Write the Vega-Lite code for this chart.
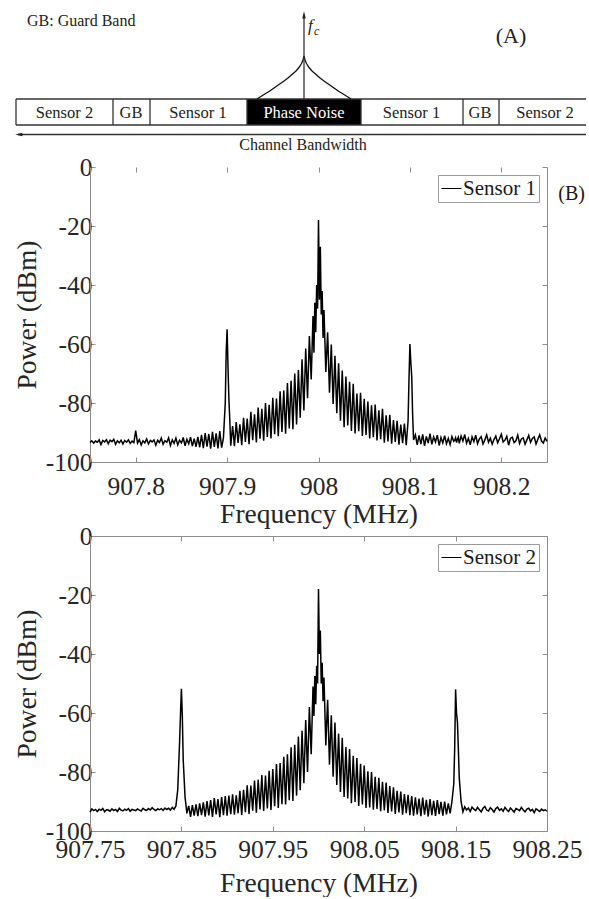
{
  "$schema": "https://vega.github.io/schema/vega-lite/v6.json",
  "padding": {"left": 13, "top": 0, "right": 0, "bottom": 0},
  "bounds": "flush",
  "spacing": 74,
  "resolve": {"scale": {"color": "independent"}},
  "config": {
    "font": "Liberation Serif",
    "view": {"stroke": null},
    "text": {"font": "Liberation Serif"},
    "axis": {
      "grid": false,
      "domainColor": "#8c8c8c",
      "tickColor": "#8c8c8c",
      "labelColor": "#262626",
      "titleColor": "#262626",
      "labelFont": "Liberation Serif",
      "titleFont": "Liberation Serif",
      "labelFontSize": 25.5,
      "titleFontSize": 27.5,
      "titleFontWeight": "normal",
      "labelOverlap": false,
      "labelFlush": false,
      "tickSize": -5,
      "domainWidth": 1,
      "tickWidth": 1
    },
    "legend": {
      "orient": "top-right",
      "offset": 8,
      "strokeColor": "#9a9a9a",
      "fillColor": "#ffffff",
      "padding": 3,
      "symbolType": "stroke",
      "symbolSize": 400,
      "symbolStrokeWidth": 1,
      "labelFont": "Liberation Serif",
      "labelFontSize": 21,
      "labelColor": "#1a1a1a",
      "labelOffset": 1
    }
  },
  "datasets": {
    "spec": [
      {"f":907.750,"a":-93.4,"b":-93.6},{"f":907.752,"a":-92.8,"b":-92.5},{"f":907.754,"a":-93.6,"b":-93.1},{"f":907.756,"a":-92.9,"b":-92.7},
      {"f":907.758,"a":-93.3,"b":-93.4},{"f":907.760,"a":-92.5,"b":-92.6},{"f":907.762,"a":-94.1,"b":-93.0},{"f":907.764,"a":-92.7,"b":-92.4},
      {"f":907.766,"a":-93.2,"b":-93.5},{"f":907.768,"a":-92.4,"b":-92.8},{"f":907.770,"a":-93.8,"b":-92.9},{"f":907.772,"a":-92.6,"b":-93.3},
      {"f":907.774,"a":-93.1,"b":-92.5},{"f":907.776,"a":-92.3,"b":-93.1},{"f":907.778,"a":-94.0,"b":-92.7},{"f":907.780,"a":-92.8,"b":-93.4},
      {"f":907.782,"a":-93.5,"b":-92.3},{"f":907.784,"a":-92.6,"b":-92.9},{"f":907.786,"a":-93.9,"b":-93.2},{"f":907.788,"a":-92.7,"b":-92.6},
      {"f":907.790,"a":-93.3,"b":-93.0},{"f":907.792,"a":-92.5,"b":-92.4},{"f":907.794,"a":-93.7,"b":-93.3},{"f":907.796,"a":-92.9,"b":-92.7},
      {"f":907.798,"a":-93.4,"b":-92.9},{"f":907.800,"a":-89.4,"b":-93.1},{"f":907.802,"a":-93.6,"b":-92.5},{"f":907.804,"a":-92.4,"b":-92.9},
      {"f":907.806,"a":-94.2,"b":-93.2},{"f":907.808,"a":-92.8,"b":-92.3},{"f":907.810,"a":-93.5,"b":-92.8},{"f":907.812,"a":-92.2,"b":-93.0},
      {"f":907.814,"a":-93.9,"b":-92.4},{"f":907.816,"a":-92.7,"b":-92.9},{"f":907.818,"a":-93.2,"b":-92.1},{"f":907.820,"a":-92.5,"b":-92.7},
      {"f":907.822,"a":-94.3,"b":-93.1},{"f":907.824,"a":-92.6,"b":-92.5},{"f":907.826,"a":-93.4,"b":-92.8},{"f":907.828,"a":-91.9,"b":-92.4},
      {"f":907.830,"a":-94.0,"b":-93.0},{"f":907.832,"a":-92.8,"b":-92.2},{"f":907.834,"a":-93.3,"b":-92.7},{"f":907.836,"a":-91.8,"b":-92.3},
      {"f":907.838,"a":-94.4,"b":-92.9},{"f":907.840,"a":-92.5,"b":-92.0},{"f":907.842,"a":-93.7,"b":-92.6},{"f":907.844,"a":-91.9,"b":-91.5},
      {"f":907.846,"a":-94.2,"b":-86.0},{"f":907.848,"a":-92.6,"b":-70.0},{"f":907.849,"a":-93.0,"b":-60.5},{"f":907.850,"a":-93.5,"b":-51.8},
      {"f":907.851,"a":-92.8,"b":-61.0},{"f":907.852,"a":-91.7,"b":-76.0},{"f":907.854,"a":-94.5,"b":-88.5},{"f":907.856,"a":-92.3,"b":-94.0},
      {"f":907.858,"a":-93.8,"b":-91.5},{"f":907.860,"a":-91.6,"b":-95.2},{"f":907.862,"a":-94.6,"b":-91.2},{"f":907.864,"a":-92.1,"b":-94.8},
      {"f":907.866,"a":-94.9,"b":-91.0},{"f":907.868,"a":-91.5,"b":-95.0},{"f":907.870,"a":-95.0,"b":-90.6},{"f":907.872,"a":-90.8,"b":-94.6},
      {"f":907.874,"a":-95.3,"b":-90.3},{"f":907.876,"a":-90.2,"b":-95.1},{"f":907.878,"a":-94.8,"b":-89.9},{"f":907.880,"a":-90.5,"b":-94.7},
      {"f":907.882,"a":-95.5,"b":-89.5},{"f":907.884,"a":-89.8,"b":-95.2},{"f":907.886,"a":-94.9,"b":-88.8},{"f":907.888,"a":-90.3,"b":-94.4},
      {"f":907.890,"a":-95.4,"b":-89.2},{"f":907.892,"a":-89.5,"b":-95.3},{"f":907.894,"a":-95.1,"b":-88.5},{"f":907.896,"a":-91.8,"b":-94.6},
      {"f":907.898,"a":-80.0,"b":-88.2},{"f":907.899,"a":-63.0,"b":-91.5},{"f":907.900,"a":-55.0,"b":-94.8},{"f":907.901,"a":-68.0,"b":-91.0},
      {"f":907.902,"a":-79.0,"b":-88.0},{"f":907.903,"a":-86.0,"b":-91.6},{"f":907.904,"a":-94.5,"b":-94.3},{"f":907.906,"a":-87.8,"b":-87.6},
      {"f":907.908,"a":-94.6,"b":-94.5},{"f":907.910,"a":-86.5,"b":-87.9},{"f":907.912,"a":-93.5,"b":-94.0},{"f":907.914,"a":-87.2,"b":-86.4},
      {"f":907.916,"a":-94.3,"b":-94.6},{"f":907.918,"a":-85.0,"b":-86.0},{"f":907.920,"a":-93.2,"b":-93.6},{"f":907.922,"a":-85.3,"b":-84.5},
      {"f":907.924,"a":-94.0,"b":-94.2},{"f":907.926,"a":-83.0,"b":-84.6},{"f":907.928,"a":-92.6,"b":-93.1},{"f":907.930,"a":-83.8,"b":-82.9},
      {"f":907.932,"a":-93.4,"b":-93.8},{"f":907.934,"a":-81.5,"b":-82.6},{"f":907.936,"a":-92.1,"b":-92.7},{"f":907.938,"a":-82.0,"b":-81.0},
      {"f":907.940,"a":-92.8,"b":-93.2},{"f":907.942,"a":-80.0,"b":-81.2},{"f":907.944,"a":-91.5,"b":-92.4},{"f":907.946,"a":-80.6,"b":-79.6},
      {"f":907.948,"a":-92.0,"b":-92.9},{"f":907.950,"a":-78.2,"b":-79.0},{"f":907.952,"a":-90.6,"b":-91.6},{"f":907.954,"a":-78.5,"b":-77.3},
      {"f":907.956,"a":-91.3,"b":-92.2},{"f":907.958,"a":-76.0,"b":-77.0},{"f":907.960,"a":-89.8,"b":-90.9},{"f":907.962,"a":-75.8,"b":-74.8},
      {"f":907.964,"a":-90.4,"b":-91.0},{"f":907.966,"a":-73.2,"b":-74.0},{"f":907.968,"a":-88.6,"b":-89.6},{"f":907.970,"a":-72.5,"b":-71.6},
      {"f":907.972,"a":-88.9,"b":-89.8},{"f":907.974,"a":-70.0,"b":-70.8},{"f":907.976,"a":-87.3,"b":-88.0},{"f":907.978,"a":-68.8,"b":-68.0},
      {"f":907.980,"a":-85.0,"b":-86.2},{"f":907.982,"a":-65.2,"b":-66.0},{"f":907.984,"a":-82.5,"b":-83.8},{"f":907.986,"a":-61.5,"b":-62.4},
      {"f":907.988,"a":-78.4,"b":-80.0},{"f":907.990,"a":-57.3,"b":-58.0},{"f":907.992,"a":-72.0,"b":-74.0},{"f":907.994,"a":-50.5,"b":-51.0},
      {"f":907.995,"a":-63.0,"b":-61.0},{"f":907.996,"a":-46.0,"b":-47.5},{"f":907.997,"a":-56.0,"b":-57.0},{"f":907.998,"a":-40.0,"b":-44.0},
      {"f":907.999,"a":-48.0,"b":-50.0},{"f":908.000,"a":-18.0,"b":-18.0},{"f":908.001,"a":-45.0,"b":-40.0},{"f":908.002,"a":-27.0,"b":-32.0},
      {"f":908.003,"a":-50.0,"b":-50.0},{"f":908.004,"a":-42.0,"b":-43.0},{"f":908.005,"a":-58.0,"b":-56.0},{"f":908.006,"a":-48.5,"b":-48.0},
      {"f":908.008,"a":-69.5,"b":-71.0},{"f":908.010,"a":-56.0,"b":-55.5},{"f":908.012,"a":-76.5,"b":-77.5},{"f":908.014,"a":-60.2,"b":-60.8},
      {"f":908.016,"a":-80.3,"b":-81.6},{"f":908.018,"a":-64.0,"b":-63.2},{"f":908.020,"a":-83.5,"b":-84.4},{"f":908.022,"a":-66.5,"b":-67.0},
      {"f":908.024,"a":-86.0,"b":-86.8},{"f":908.026,"a":-69.0,"b":-68.4},{"f":908.028,"a":-88.2,"b":-88.5},{"f":908.030,"a":-71.0,"b":-71.5},
      {"f":908.032,"a":-87.6,"b":-89.0},{"f":908.034,"a":-72.8,"b":-72.2},{"f":908.036,"a":-89.5,"b":-90.6},{"f":908.038,"a":-73.5,"b":-74.5},
      {"f":908.040,"a":-90.3,"b":-90.2},{"f":908.042,"a":-76.8,"b":-75.3},{"f":908.044,"a":-89.6,"b":-91.5},{"f":908.046,"a":-76.5,"b":-77.2},
      {"f":908.048,"a":-91.2,"b":-91.0},{"f":908.050,"a":-78.6,"b":-77.8},{"f":908.052,"a":-90.8,"b":-92.2},{"f":908.054,"a":-79.5,"b":-79.8},
      {"f":908.056,"a":-92.0,"b":-92.0},{"f":908.058,"a":-80.8,"b":-80.0},{"f":908.060,"a":-91.6,"b":-92.8},{"f":908.062,"a":-80.5,"b":-81.6},
      {"f":908.064,"a":-92.7,"b":-92.5},{"f":908.066,"a":-82.5,"b":-82.0},{"f":908.068,"a":-92.3,"b":-93.3},{"f":908.070,"a":-82.0,"b":-83.3},
      {"f":908.072,"a":-93.5,"b":-93.0},{"f":908.074,"a":-84.2,"b":-83.6},{"f":908.076,"a":-93.0,"b":-93.9},{"f":908.078,"a":-84.0,"b":-84.8},
      {"f":908.080,"a":-93.8,"b":-93.4},{"f":908.082,"a":-85.8,"b":-85.2},{"f":908.084,"a":-93.2,"b":-94.2},{"f":908.086,"a":-86.0,"b":-86.4},
      {"f":908.088,"a":-94.1,"b":-93.7},{"f":908.090,"a":-87.3,"b":-86.6},{"f":908.092,"a":-93.6,"b":-94.5},{"f":908.094,"a":-87.0,"b":-87.5},
      {"f":908.096,"a":-94.3,"b":-94.0},{"f":908.098,"a":-86.0,"b":-87.7},{"f":908.099,"a":-72.0,"b":-91.2},{"f":908.100,"a":-60.0,"b":-94.6},
      {"f":908.101,"a":-66.0,"b":-91.0},{"f":908.102,"a":-71.0,"b":-88.2},{"f":908.103,"a":-84.0,"b":-91.7},{"f":908.104,"a":-92.5,"b":-94.8},
      {"f":908.106,"a":-90.8,"b":-88.6},{"f":908.108,"a":-94.2,"b":-94.4},{"f":908.110,"a":-91.0,"b":-89.0},{"f":908.112,"a":-93.9,"b":-95.0},
      {"f":908.114,"a":-90.6,"b":-88.7},{"f":908.116,"a":-94.5,"b":-94.5},{"f":908.118,"a":-91.3,"b":-89.4},{"f":908.120,"a":-93.6,"b":-95.1},
      {"f":908.122,"a":-90.4,"b":-89.2},{"f":908.124,"a":-94.0,"b":-94.6},{"f":908.126,"a":-91.5,"b":-89.8},{"f":908.128,"a":-93.2,"b":-94.9},
      {"f":908.130,"a":-90.9,"b":-89.5},{"f":908.132,"a":-94.4,"b":-94.3},{"f":908.134,"a":-91.7,"b":-90.1},{"f":908.136,"a":-93.5,"b":-94.8},
      {"f":908.138,"a":-91.1,"b":-90.0},{"f":908.140,"a":-93.8,"b":-94.4},{"f":908.142,"a":-92.0,"b":-90.6},{"f":908.144,"a":-94.1,"b":-94.0},
      {"f":908.146,"a":-91.4,"b":-90.0},{"f":908.148,"a":-93.0,"b":-84.0},{"f":908.149,"a":-92.6,"b":-72.0},{"f":908.150,"a":-91.8,"b":-52.0},
      {"f":908.151,"a":-93.4,"b":-60.0},{"f":908.152,"a":-92.3,"b":-63.0},{"f":908.153,"a":-91.6,"b":-72.0},{"f":908.154,"a":-93.7,"b":-82.0},
      {"f":908.156,"a":-91.2,"b":-90.0},{"f":908.158,"a":-92.9,"b":-93.5},{"f":908.160,"a":-90.7,"b":-91.8},{"f":908.162,"a":-93.6,"b":-92.9},
      {"f":908.164,"a":-92.0,"b":-92.2},{"f":908.166,"a":-94.2,"b":-93.4},{"f":908.168,"a":-91.5,"b":-91.9},{"f":908.170,"a":-93.1,"b":-92.6},
      {"f":908.172,"a":-90.9,"b":-93.1},{"f":908.174,"a":-93.8,"b":-92.0},{"f":908.176,"a":-92.2,"b":-92.8},{"f":908.178,"a":-91.4,"b":-93.5},
      {"f":908.180,"a":-93.9,"b":-92.3},{"f":908.182,"a":-92.5,"b":-91.7},{"f":908.184,"a":-90.8,"b":-92.9},{"f":908.186,"a":-93.3,"b":-93.2},
      {"f":908.188,"a":-91.9,"b":-92.1},{"f":908.190,"a":-94.0,"b":-92.7},{"f":908.192,"a":-92.4,"b":-93.6},{"f":908.194,"a":-91.2,"b":-92.4},
      {"f":908.196,"a":-93.5,"b":-91.9},{"f":908.198,"a":-92.1,"b":-93.0},{"f":908.200,"a":-90.6,"b":-92.5},{"f":908.202,"a":-93.2,"b":-93.3},
      {"f":908.204,"a":-92.6,"b":-92.0},{"f":908.206,"a":-91.3,"b":-92.8},{"f":908.208,"a":-94.3,"b":-93.4},{"f":908.210,"a":-92.0,"b":-92.2},
      {"f":908.212,"a":-91.6,"b":-92.9},{"f":908.214,"a":-93.4,"b":-93.6},{"f":908.216,"a":-92.8,"b":-92.4},{"f":908.218,"a":-90.9,"b":-92.7},
      {"f":908.220,"a":-93.7,"b":-93.1},{"f":908.222,"a":-92.2,"b":-92.0},{"f":908.224,"a":-91.8,"b":-92.9},{"f":908.226,"a":-94.0,"b":-93.5},
      {"f":908.228,"a":-92.5,"b":-92.6},{"f":908.230,"a":-91.0,"b":-92.3},{"f":908.232,"a":-93.3,"b":-93.2},{"f":908.234,"a":-92.0,"b":-92.7},
      {"f":908.236,"a":-91.5,"b":-93.8},{"f":908.238,"a":-93.9,"b":-92.5},{"f":908.240,"a":-92.3,"b":-92.9},{"f":908.242,"a":-90.8,"b":-93.4},
      {"f":908.244,"a":-92.9,"b":-92.6},{"f":908.246,"a":-93.6,"b":-93.1},{"f":908.248,"a":-91.9,"b":-92.8},{"f":908.250,"a":-93.0,"b":-93.3}
    ],
    "curve": [
      {"pos":260,"level":26},{"pos":263,"level":28},{"pos":267,"level":30.5},{"pos":272,"level":33.5},{"pos":277,"level":37},
      {"pos":282,"level":40.5},{"pos":287,"level":44},{"pos":291,"level":47},{"pos":295,"level":50.5},{"pos":299,"level":54},
      {"pos":302,"level":57.5},{"pos":304.5,"level":61.5},{"pos":306,"level":65},{"pos":307,"level":69},{"pos":308,"level":65},
      {"pos":309.5,"level":61.5},{"pos":312,"level":57.5},{"pos":315,"level":54},{"pos":319,"level":50.5},{"pos":323,"level":47},
      {"pos":327,"level":44},{"pos":332,"level":40.5},{"pos":337,"level":37},{"pos":342,"level":33.5},{"pos":347,"level":30.5},
      {"pos":351,"level":28},{"pos":354,"level":26}
    ]
  },
  "vconcat": [
    {
      "width": 457,
      "height": 93,
      "layer": [
        {
          "data": {"values": [{"from": 250, "to": 364}]},
          "mark": {"type": "rect", "color": "#000000"},
          "encoding": {
            "x": {"field": "from", "type": "quantitative", "scale": {"domain": [93, 550], "nice": false, "zero": false}, "axis": null},
            "x2": {"field": "to"},
            "y": {"datum": 0, "type": "quantitative", "scale": {"domain": [32, 125], "nice": false, "zero": false}, "axis": null},
            "y2": {"datum": 26}
          }
        },
        {
          "data": {"values": [{"from": 19, "to": 589, "level": 26}, {"from": 19, "to": 589, "level": 0}]},
          "mark": {"type": "rule", "color": "#333333", "strokeWidth": 1.3},
          "encoding": {
            "x": {"field": "from", "type": "quantitative", "axis": null},
            "x2": {"field": "to"},
            "y": {"field": "level", "type": "quantitative", "axis": null}
          }
        },
        {
          "data": {"values": [{"pos": 19}, {"pos": 116}, {"pos": 153}, {"pos": 250}, {"pos": 364}, {"pos": 466}, {"pos": 502}]},
          "mark": {"type": "rule", "color": "#333333", "strokeWidth": 1.3},
          "encoding": {
            "x": {"field": "pos", "type": "quantitative", "axis": null},
            "y": {"datum": 0, "type": "quantitative", "axis": null},
            "y2": {"datum": 26}
          }
        },
        {
          "data": {"values": [{"pos": 67.5, "name": "Sensor 2"}, {"pos": 134, "name": "GB"}, {"pos": 201, "name": "Sensor 1"}, {"pos": 414.5, "name": "Sensor 1"}, {"pos": 483, "name": "GB"}, {"pos": 548, "name": "Sensor 2"}]},
          "mark": {"type": "text", "fontSize": 16.5, "font": "Liberation Serif", "color": "#222222", "align": "center", "baseline": "alphabetic"},
          "encoding": {
            "x": {"field": "pos", "type": "quantitative", "axis": null},
            "y": {"datum": 7, "type": "quantitative", "axis": null},
            "text": {"field": "name"}
          }
        },
        {
          "data": {"values": [{"name": "Phase Noise"}]},
          "mark": {"type": "text", "fontSize": 16.5, "font": "Liberation Serif", "color": "#ffffff", "align": "center", "baseline": "alphabetic"},
          "encoding": {
            "x": {"datum": 307, "type": "quantitative", "axis": null},
            "y": {"datum": 7, "type": "quantitative", "axis": null},
            "text": {"field": "name"}
          }
        },
        {
          "data": {"name": "curve"},
          "mark": {"type": "line", "color": "#111111", "strokeWidth": 1.3},
          "encoding": {
            "x": {"field": "pos", "type": "quantitative", "axis": null},
            "y": {"field": "level", "type": "quantitative", "axis": null}
          }
        },
        {
          "data": {"values": [{}]},
          "mark": {"type": "rule", "color": "#333333", "strokeWidth": 1.3},
          "encoding": {
            "x": {"datum": 307, "type": "quantitative", "axis": null},
            "y": {"datum": 26, "type": "quantitative", "axis": null},
            "y2": {"datum": 110}
          }
        },
        {
          "data": {"values": [{}]},
          "mark": {"type": "point", "shape": "M0,-1.2L0.45,0.6L-0.45,0.6Z", "size": 64, "filled": true, "color": "#222222", "opacity": 1},
          "encoding": {
            "x": {"datum": 307, "type": "quantitative", "axis": null},
            "y": {"datum": 109, "type": "quantitative", "axis": null}
          }
        },
        {
          "data": {"values": [{}]},
          "mark": {"type": "rule", "color": "#333333", "strokeWidth": 1.3},
          "encoding": {
            "x": {"datum": 21, "type": "quantitative", "axis": null},
            "x2": {"datum": 589},
            "y": {"datum": -9.5, "type": "quantitative", "axis": null}
          }
        },
        {
          "data": {"values": [{}]},
          "mark": {"type": "point", "shape": "M-1.2,0L0.6,-0.45L0.6,0.45Z", "size": 64, "filled": true, "color": "#222222", "opacity": 1},
          "encoding": {
            "x": {"datum": 23, "type": "quantitative", "axis": null},
            "y": {"datum": -9.5, "type": "quantitative", "axis": null}
          }
        },
        {
          "data": {"values": [{"label": "Channel Bandwidth"}]},
          "mark": {"type": "text", "fontSize": 16, "font": "Liberation Serif", "color": "#222222", "align": "center", "baseline": "alphabetic"},
          "encoding": {
            "x": {"datum": 306, "type": "quantitative", "axis": null},
            "y": {"datum": -25, "type": "quantitative", "axis": null},
            "text": {"field": "label"}
          }
        },
        {
          "data": {"values": [{"label": "GB: Guard Band"}]},
          "mark": {"type": "text", "fontSize": 16, "font": "Liberation Serif", "color": "#222222", "align": "left", "baseline": "alphabetic"},
          "encoding": {
            "x": {"datum": 30, "type": "quantitative", "axis": null},
            "y": {"datum": 99, "type": "quantitative", "axis": null},
            "text": {"field": "label"}
          }
        },
        {
          "data": {"values": [{"label": "(A)"}]},
          "mark": {"type": "text", "fontSize": 22, "font": "Liberation Serif", "color": "#222222", "align": "center", "baseline": "alphabetic"},
          "encoding": {
            "x": {"datum": 514, "type": "quantitative", "axis": null},
            "y": {"datum": 82, "type": "quantitative", "axis": null},
            "text": {"field": "label"}
          }
        },
        {
          "data": {"values": [{"label": "f"}]},
          "mark": {"type": "text", "fontSize": 17, "font": "Liberation Serif", "fontStyle": "italic", "color": "#222222", "align": "left", "baseline": "alphabetic"},
          "encoding": {
            "x": {"datum": 311, "type": "quantitative", "axis": null},
            "y": {"datum": 94, "type": "quantitative", "axis": null},
            "text": {"field": "label"}
          }
        },
        {
          "data": {"values": [{"label": "c"}]},
          "mark": {"type": "text", "fontSize": 12, "font": "Liberation Serif", "fontStyle": "italic", "color": "#222222", "align": "left", "baseline": "alphabetic"},
          "encoding": {
            "x": {"datum": 317, "type": "quantitative", "axis": null},
            "y": {"datum": 90, "type": "quantitative", "axis": null},
            "text": {"field": "label"}
          }
        }
      ]
    },
    {
      "width": 457,
      "height": 295,
      "data": {"name": "spec"},
      "layer": [
        {
          "mark": {"type": "line", "strokeWidth": 1.5},
          "encoding": {
            "x": {"field": "f", "type": "quantitative", "scale": {"domain": [907.75, 908.25], "nice": false, "zero": false},
              "axis": {"orient": "bottom", "values": [907.8, 907.9, 908, 908.1, 908.2], "labelExpr": "'' + datum.value", "title": "Frequency (MHz)", "labelPadding": 17, "titlePadding": 1}},
            "y": {"field": "a", "type": "quantitative", "scale": {"domain": [-100, 0], "nice": false, "zero": false},
              "axis": {"orient": "left", "values": [-100, -80, -60, -40, -20, 0], "labelExpr": "'' + datum.value", "title": "Power (dBm)", "labelPadding": 3, "titlePadding": 4}},
            "color": {"datum": "Sensor 1", "type": "nominal", "scale": {"range": ["#000000"]}, "legend": {"title": null}}
          }
        },
        {
          "data": {"values": [{"label": "(B)"}]},
          "mark": {"type": "text", "fontSize": 20, "font": "Liberation Serif", "color": "#1a1a1a", "align": "center", "baseline": "middle"},
          "encoding": {
            "x": {"datum": 908.277, "type": "quantitative", "scale": {"domain": [907.75, 908.25], "nice": false, "zero": false},
              "axis": {"orient": "top", "values": [907.8, 907.9, 908, 908.1, 908.2], "labels": false, "title": null, "domain": false}},
            "y": {"datum": -9.2, "type": "quantitative", "scale": {"domain": [-100, 0], "nice": false, "zero": false},
              "axis": {"orient": "right", "values": [-100, -80, -60, -40, -20, 0], "labels": false, "title": null}},
            "text": {"field": "label"}
          }
        }
      ],
      "resolve": {"axis": {"x": "independent", "y": "independent"}}
    },
    {
      "width": 457,
      "height": 295,
      "data": {"name": "spec"},
      "layer": [
        {
          "mark": {"type": "line", "strokeWidth": 1.5},
          "encoding": {
            "x": {"field": "f", "type": "quantitative", "scale": {"domain": [907.75, 908.25], "nice": false, "zero": false},
              "axis": {"orient": "bottom", "values": [907.75, 907.85, 907.95, 908.05, 908.15, 908.25], "labelExpr": "'' + datum.value", "title": "Frequency (MHz)", "labelPadding": 11, "titlePadding": 7}},
            "y": {"field": "b", "type": "quantitative", "scale": {"domain": [-100, 0], "nice": false, "zero": false},
              "axis": {"orient": "left", "values": [-100, -80, -60, -40, -20, 0], "labelExpr": "'' + datum.value", "title": "Power (dBm)", "labelPadding": 3, "titlePadding": 4}},
            "color": {"datum": "Sensor 2", "type": "nominal", "scale": {"range": ["#000000"]}, "legend": {"title": null}}
          }
        },
        {
          "data": {"values": [{"label": ""}]},
          "mark": {"type": "text", "fontSize": 10},
          "encoding": {
            "x": {"datum": 908, "type": "quantitative", "scale": {"domain": [907.75, 908.25], "nice": false, "zero": false},
              "axis": {"orient": "top", "values": [907.75, 907.85, 907.95, 908.05, 908.15, 908.25], "labels": false, "title": null}},
            "y": {"datum": -50, "type": "quantitative", "scale": {"domain": [-100, 0], "nice": false, "zero": false},
              "axis": {"orient": "right", "values": [-100, -80, -60, -40, -20, 0], "labels": false, "title": null}},
            "text": {"field": "label"}
          }
        }
      ],
      "resolve": {"axis": {"x": "independent", "y": "independent"}}
    }
  ]
}
